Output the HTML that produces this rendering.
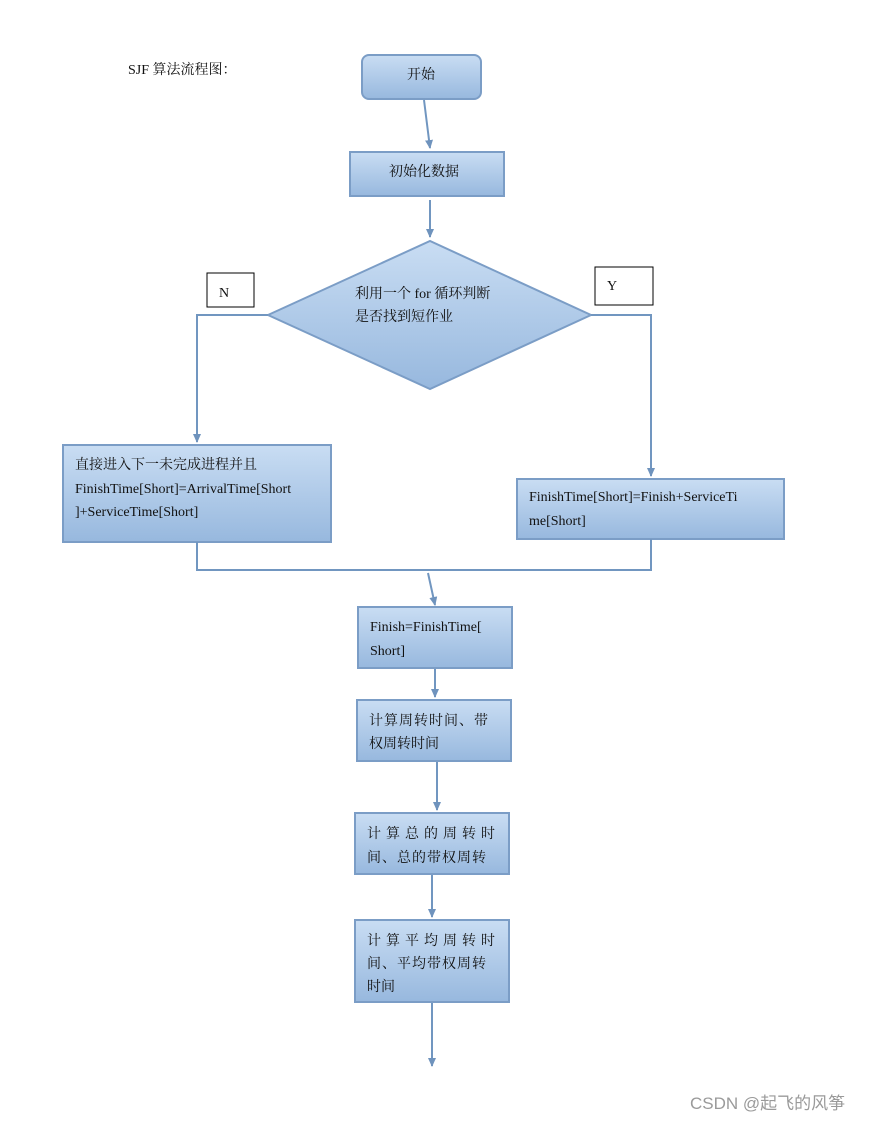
<!DOCTYPE html>
<html><head><meta charset="utf-8"><style>
html,body{margin:0;padding:0;background:#fff;}
svg{display:block;}
text{font-family:"Liberation Serif","Noto Serif CJK SC","Noto Sans CJK SC",serif;font-size:14px;fill:#111;}
</style></head><body>
<svg width="877" height="1121" viewBox="0 0 877 1121" xmlns="http://www.w3.org/2000/svg">
<defs>
<linearGradient id="g" x1="0" y1="0" x2="0" y2="1">
<stop offset="0" stop-color="#c9ddf3"/><stop offset="1" stop-color="#97b8de"/>
</linearGradient>
<marker id="a" markerWidth="10" markerHeight="10" refX="8" refY="5" orient="auto" markerUnits="userSpaceOnUse">
<path d="M0,1 L9,5 L0,9 z" fill="#6f93bd"/>
</marker>
</defs>
<rect width="877" height="1121" fill="#fff"/>
<text x="128" y="74">SJF 算法流程图：</text>

<g stroke="#7b9dc6" stroke-width="2" fill="url(#g)">
<rect x="362" y="55" width="119" height="44" rx="7"/>
<rect x="350" y="152" width="154" height="44"/>
<polygon points="268,315 430,241 591,315 430,389"/>
<rect x="63" y="445" width="268" height="97"/>
<rect x="517" y="479" width="267" height="60"/>
<rect x="358" y="607" width="154" height="61"/>
<rect x="357" y="700" width="154" height="61"/>
<rect x="355" y="813" width="154" height="61"/>
<rect x="355" y="920" width="154" height="82"/>
</g>
<g stroke="#000" stroke-width="1" fill="#fff">
<rect x="207" y="273" width="47" height="34"/>
<rect x="595" y="267" width="58" height="38"/>
</g>
<g stroke="#7196c0" stroke-width="2" fill="none">
<line x1="424" y1="100" x2="430" y2="148" marker-end="url(#a)"/>
<line x1="430" y1="200" x2="430" y2="237" marker-end="url(#a)"/>
<polyline points="268,315 197,315 197,442" marker-end="url(#a)"/>
<polyline points="591,315 651,315 651,476" marker-end="url(#a)"/>
<polyline points="197,542 197,570 651,570 651,539"/>
<line x1="428" y1="573" x2="435" y2="605" marker-end="url(#a)"/>
<line x1="435" y1="669" x2="435" y2="697" marker-end="url(#a)"/>
<line x1="437" y1="762" x2="437" y2="810" marker-end="url(#a)"/>
<line x1="432" y1="875" x2="432" y2="917" marker-end="url(#a)"/>
<line x1="432" y1="1003" x2="432" y2="1066" marker-end="url(#a)"/>
</g>

<text x="407" y="79">开始</text>
<text x="389" y="176">初始化数据</text>
<text x="355" y="298">利用一个 for 循环判断</text>
<text x="355" y="321">是否找到短作业</text>
<text x="219" y="297">N</text>
<text x="607" y="290">Y</text>
<text x="75" y="469">直接进入下一未完成进程并且</text>
<text x="75" y="493">FinishTime[Short]=ArrivalTime[Short</text>
<text x="75" y="516">]+ServiceTime[Short]</text>
<text x="529" y="501">FinishTime[Short]=Finish+ServiceTi</text>
<text x="529" y="525">me[Short]</text>
<text x="370" y="631">Finish=FinishTime[</text>
<text x="370" y="655">Short]</text>
<text x="369" y="725" letter-spacing="1">计算周转时间、带</text>
<text x="369" y="748">权周转时间</text>
<text x="367" y="838" letter-spacing="5">计算总的周转时</text>
<text x="367" y="862" letter-spacing="1">间、总的带权周转</text>
<text x="367" y="945" letter-spacing="5">计算平均周转时</text>
<text x="367" y="968" letter-spacing="1">间、平均带权周转</text>
<text x="367" y="991">时间</text>

<text x="690" y="1109" style="font-family:'Liberation Sans','Noto Sans CJK SC',sans-serif;font-size:17px;fill:#9a9a9a;">CSDN @起飞的风筝</text>
</svg>
</body></html>
